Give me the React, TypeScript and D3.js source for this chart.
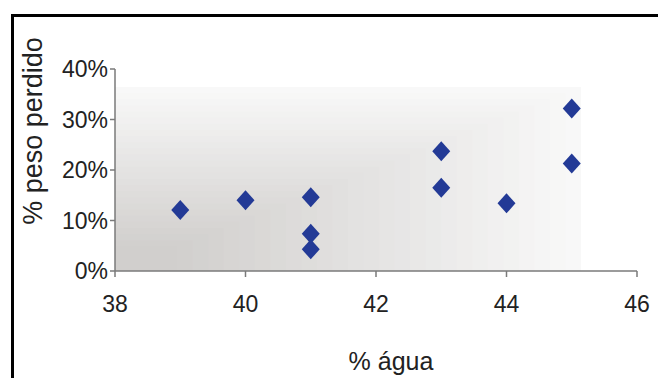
import React from "react";
import * as d3 from "d3";

// Water content (%) and weight lost (fraction) per sample
const agua = [39, 40, 41, 41, 41, 43, 43, 44, 45, 45];
const pesoPerdido = [0.121, 0.14, 0.146, 0.074, 0.043, 0.237, 0.165, 0.134, 0.322, 0.213];

const xTicks = [38, 40, 42, 44, 46];
const yTicks = [0, 0.1, 0.2, 0.3, 0.4];

const xTitle = "% água";
const yTitle = "% peso perdido";

const W = 658;
const H = 378;
const FONT = "'Liberation Sans', Arial, Helvetica, sans-serif";

export default function App() {
  const x = d3.scaleLinear().domain([38, 46]).range([115, 637]);
  const y = d3.scaleLinear().domain([0, 0.4]).range([271, 69]);
  const fmtPct = d3.format(".0%");

  // Corner gradient of the plot area: nested rectangles anchored at the lower-left corner
  const bgLeft = x(38);
  const bgRight = 581;
  const bgTop = 87;
  const bgBottom = y(0);
  const steps = 30;
  const shade = d3.interpolateRgb("#f9f9f9", "#d1cfcd");
  const bands = d3.range(steps).map((i) => {
    const t = i / steps;
    return {
      w: (bgRight - bgLeft) * (1 - t),
      h: (bgBottom - bgTop) * (1 - t),
      fill: shade(Math.min(1, (t + 0.5 / steps) * 1.15)),
    };
  });

  const diamond = (cx: number, cy: number) =>
    `M${cx},${cy - 10}L${cx + 9},${cy}L${cx},${cy + 10}L${cx - 9},${cy}Z`;

  return (
    <svg
      width={W}
      height={H}
      style={{ position: "absolute", left: 0, top: 0, background: "#fff" }}
      fontFamily={FONT}
    >
      <rect x={0} y={0} width={W} height={H} fill="#fff" />
      {/* chart frame */}
      <rect x={12.5} y={15.5} width={700} height={420} fill="none" stroke="#000" strokeWidth={3} />

      {/* plot-area fill */}
      {bands.map((b, i) => (
        <rect key={i} x={bgLeft} y={bgBottom - b.h} width={b.w} height={b.h} fill={b.fill} />
      ))}

      {/* axes */}
      <g stroke="#7a7a7a" strokeWidth={1.5} fill="none">
        <line x1={x(38)} x2={x(46)} y1={y(0)} y2={y(0)} />
        <line x1={x(38)} x2={x(38)} y1={y(0)} y2={y(0.4)} />
        {xTicks.map((t) => (
          <line key={t} x1={x(t)} x2={x(t)} y1={y(0)} y2={y(0) + 6} />
        ))}
        {yTicks.map((t) => (
          <line key={t} x1={x(38) - 5} x2={x(38)} y1={y(t)} y2={y(t)} />
        ))}
      </g>

      {/* tick labels */}
      <g fontSize={23} fill="#222">
        {xTicks.map((t) => (
          <text key={t} x={x(t)} y={312} textAnchor="middle">
            {t}
          </text>
        ))}
        {yTicks.map((t) => (
          <text key={t} x={108} y={y(t) + 8} textAnchor="end">
            {fmtPct(t)}
          </text>
        ))}
      </g>

      {/* axis titles */}
      <text x={391} y={370} textAnchor="middle" fontSize={25} fill="#222">
        {xTitle}
      </text>
      <text
        transform={`translate(42,131) rotate(-90)`}
        textAnchor="middle"
        fontSize={27}
        fill="#222"
      >
        {yTitle}
      </text>

      {/* data points */}
      <g fill="#233a96">
        {agua.map((a, i) => (
          <path key={i} d={diamond(x(a), y(pesoPerdido[i]))} />
        ))}
      </g>
    </svg>
  );
}
